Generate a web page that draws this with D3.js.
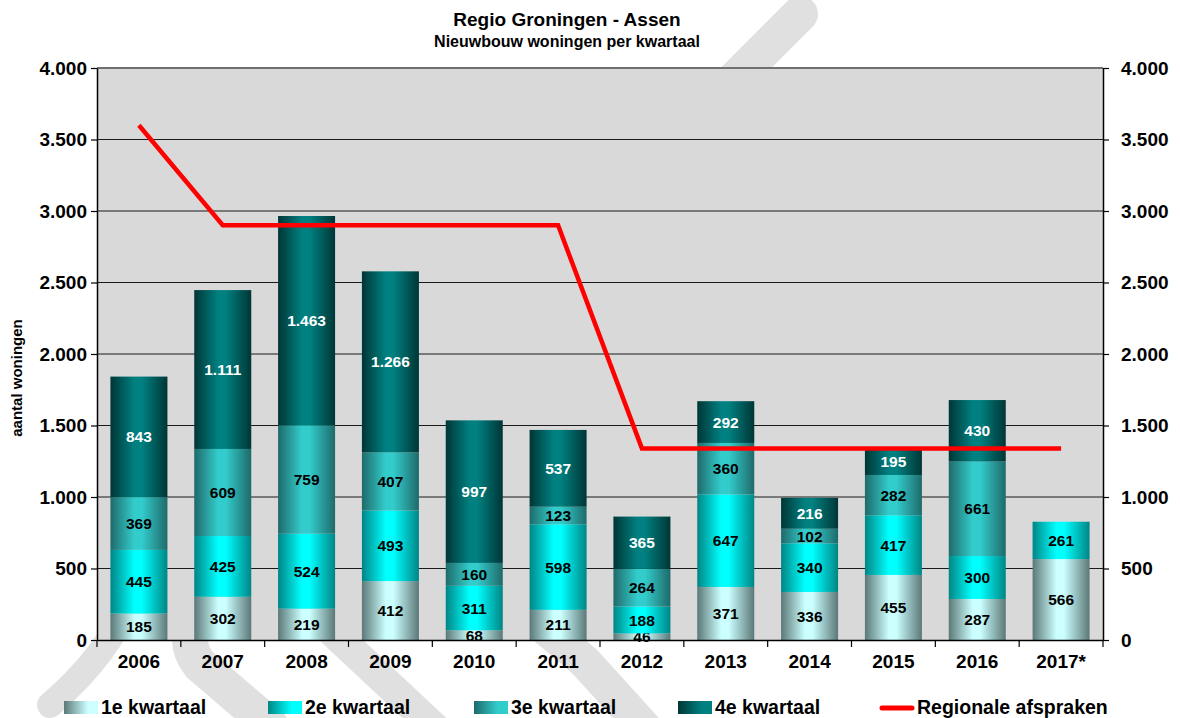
<!DOCTYPE html>
<html>
<head>
<meta charset="utf-8">
<script src="https://cdn.jsdelivr.net/npm/d3@7"></script>
<style>
  body { margin: 0; background: #fff; }
  svg text { font-family: Arial, "Liberation Sans", sans-serif; font-weight: bold; }
</style>
</head>
<body>
<script>
// chart values
const years = ["2006", "2007", "2008", "2009", "2010", "2011", "2012", "2013", "2014", "2015", "2016", "2017*"];
const kwartaal1 = [185, 302, 219, 412, 68, 211, 46, 371, 336, 455, 287, 566];
const kwartaal2 = [445, 425, 524, 493, 311, 598, 188, 647, 340, 417, 300, 261];
const kwartaal3 = [369, 609, 759, 407, 160, 123, 264, 360, 102, 282, 661, null];
const kwartaal4 = [843, 1111, 1463, 1266, 997, 537, 365, 292, 216, 195, 430, null];
const afspraken = [3600, 2900, 2900, 2900, 2900, 2900, 1340, 1340, 1340, 1340, 1340, 1340];
const seriesKeys = ["q1", "q2", "q3", "q4"];
const seriesNames = ["1e kwartaal", "2e kwartaal", "3e kwartaal", "4e kwartaal"];
const lineName = "Regionale afspraken";
const yTicks = [0, 500, 1000, 1500, 2000, 2500, 3000, 3500, 4000];

const W = 1180, H = 718;
const plot = { left: 97, right: 1103, top: 68, bottom: 640 };

// dark edge / light centre of each quarter's cylinder look
const shades = {
  q1: { edge: "#5c7878", mid: "#ccffff" },
  q2: { edge: "#008585", mid: "#00ffff" },
  q3: { edge: "#1f6a6a", mid: "#33cccc" },
  q4: { edge: "#003636", mid: "#008080" }
};

const nl = d3.formatLocale({ decimal: ",", thousands: ".", grouping: [3], currency: ["€", ""] });
const fmt = nl.format(",d");

const svg = d3.select("body").append("svg")
  .attr("width", W)
  .attr("height", H);

const defs = svg.append("defs");

seriesKeys.forEach(k => {
  const g = defs.append("linearGradient").attr("id", "grad-" + k)
    .attr("x1", "0%").attr("x2", "100%").attr("y1", "0%").attr("y2", "0%");
  g.append("stop").attr("offset", "0%").attr("stop-color", shades[k].edge);
  g.append("stop").attr("offset", "42%").attr("stop-color", shades[k].mid);
  g.append("stop").attr("offset", "55%").attr("stop-color", shades[k].mid);
  g.append("stop").attr("offset", "100%").attr("stop-color", shades[k].edge);

  const lg = defs.append("linearGradient").attr("id", "leg-" + k)
    .attr("x1", "0%").attr("x2", "100%").attr("y1", "0%").attr("y2", "0%");
  lg.append("stop").attr("offset", "0%").attr("stop-color", shades[k].edge);
  lg.append("stop").attr("offset", "70%").attr("stop-color", shades[k].mid);
  lg.append("stop").attr("offset", "100%").attr("stop-color", shades[k].mid);
});

// faint logo watermark behind the chart (only shows outside the plot)
const watermark = [
  { d: "M800,14 L200,615 Q180,640 200,665 L270,725", w: 36 },
  { d: "M130,600 Q108,655 50,705", w: 26 },
  { d: "M325,625 L435,728", w: 30 },
  { d: "M525,612 Q560,640 585,662 L645,728", w: 34 }
];
svg.append("g").selectAll("path")
  .data(watermark)
  .enter().append("path")
  .attr("d", d => d.d)
  .attr("fill", "none")
  .attr("stroke", "#e0e0e0")
  .attr("stroke-width", d => d.w)
  .attr("stroke-linecap", "round");

// scales
const x = d3.scaleBand()
  .domain(years)
  .range([plot.left, plot.right])
  .paddingInner(0.32)
  .paddingOuter(0.16);

const y = d3.scaleLinear()
  .domain([0, 4000])
  .range([plot.bottom, plot.top]);

// plot background
svg.append("rect")
  .attr("x", plot.left).attr("y", plot.top)
  .attr("width", plot.right - plot.left)
  .attr("height", plot.bottom - plot.top)
  .attr("fill", "#d9d9d9");

// gridlines
svg.append("g").selectAll("line")
  .data(yTicks.filter(t => t > 0 && t < 4000))
  .enter().append("line")
  .attr("x1", plot.left).attr("x2", plot.right)
  .attr("y1", d => y(d)).attr("y2", d => y(d))
  .attr("stroke", "#1a1a1a")
  .attr("stroke-width", 1);

svg.append("line")
  .attr("x1", plot.left).attr("x2", plot.right)
  .attr("y1", y(4000)).attr("y2", y(4000))
  .attr("stroke", "#707070")
  .attr("stroke-width", 2);

// stacked bars
const table = years.map((yr, i) => ({
  year: yr,
  q1: kwartaal1[i], q2: kwartaal2[i], q3: kwartaal3[i], q4: kwartaal4[i]
}));

const stacked = d3.stack()
  .keys(seriesKeys)
  .value((d, k) => d[k] || 0)(table);

const layers = svg.append("g").selectAll("g.layer")
  .data(stacked)
  .enter().append("g")
  .attr("class", "layer");

layers.selectAll("rect")
  .data(s => s.map(d => ({ key: s.key, y0: d[0], y1: d[1], year: d.data.year, v: d.data[s.key] })))
  .enter().append("rect")
  .filter(d => d.v)
  .attr("x", d => x(d.year))
  .attr("width", x.bandwidth())
  .attr("y", d => y(d.y1))
  .attr("height", d => y(d.y0) - y(d.y1))
  .attr("fill", d => "url(#grad-" + d.key + ")");

layers.selectAll("text")
  .data(s => s.map(d => ({ key: s.key, y0: d[0], y1: d[1], year: d.data.year, v: d.data[s.key] })))
  .enter().append("text")
  .filter(d => d.v)
  .attr("x", d => x(d.year) + x.bandwidth() / 2)
  .attr("y", d => (y(d.y0) + y(d.y1)) / 2)
  .attr("dy", "0.36em")
  .attr("text-anchor", "middle")
  .attr("font-size", 15.5)
  .attr("fill", d => d.key === "q4" ? "#fff" : "#000")
  .text(d => fmt(d.v));

// red target line
const line = d3.line()
  .x((d, i) => x(years[i]) + x.bandwidth() / 2)
  .y(d => y(d));

svg.append("path")
  .datum(afspraken)
  .attr("d", line)
  .attr("fill", "none")
  .attr("stroke", "#ff0000")
  .attr("stroke-width", 4.5)
  .attr("stroke-linejoin", "miter");

// axes
const axisLeft = svg.append("g")
  .attr("transform", "translate(" + plot.left + ",0)")
  .call(d3.axisLeft(y).tickValues(yTicks).tickSize(6).tickSizeOuter(0).tickPadding(4).tickFormat(fmt));

const axisRight = svg.append("g")
  .attr("transform", "translate(" + plot.right + ",0)")
  .call(d3.axisRight(y).tickValues(yTicks).tickSize(6).tickSizeOuter(0).tickPadding(12).tickFormat(fmt));

[axisLeft, axisRight].forEach(a => {
  a.selectAll("path.domain").attr("stroke", "#000").attr("stroke-width", 1.5);
  a.selectAll("line").attr("stroke", "#000").attr("stroke-width", 1.2);
  a.selectAll("text").attr("font-size", 19).attr("fill", "#000");
});

const axisBottom = svg.append("g")
  .attr("transform", "translate(0," + plot.bottom + ")")
  .call(d3.axisBottom(x).tickSize(0).tickPadding(15));

axisBottom.select("path.domain").attr("stroke", "#000").attr("stroke-width", 1.5);
axisBottom.selectAll("text").attr("font-size", 19).attr("fill", "#000");

// ticks between the categories
const step = x.step();
axisBottom.append("g").selectAll("line")
  .data(years.concat(["end"]))
  .enter().append("line")
  .attr("x1", (d, i) => plot.left + i * step)
  .attr("x2", (d, i) => plot.left + i * step)
  .attr("y1", 0).attr("y2", 7)
  .attr("stroke", "#000")
  .attr("stroke-width", 1.2);

// titles
svg.append("text")
  .attr("x", 567).attr("y", 26)
  .attr("text-anchor", "middle")
  .attr("font-size", 19)
  .text("Regio Groningen - Assen");

svg.append("text")
  .attr("x", 567).attr("y", 47)
  .attr("text-anchor", "middle")
  .attr("font-size", 16)
  .text("Nieuwbouw woningen per kwartaal");

svg.append("text")
  .attr("transform", "translate(22,378) rotate(-90)")
  .attr("text-anchor", "middle")
  .attr("font-size", 15)
  .text("aantal woningen");

// legend
const legendX = [64, 268, 474, 678];
const legend = svg.append("g");

legend.selectAll("rect")
  .data(seriesKeys)
  .enter().append("rect")
  .attr("x", (d, i) => legendX[i])
  .attr("y", 701)
  .attr("width", 34)
  .attr("height", 13)
  .attr("fill", d => "url(#leg-" + d + ")");

legend.selectAll("text.q")
  .data(seriesNames)
  .enter().append("text")
  .attr("class", "q")
  .attr("x", (d, i) => legendX[i] + 37)
  .attr("y", 714)
  .attr("font-size", 19.5)
  .text(d => d);

legend.append("line")
  .attr("x1", 882).attr("x2", 912)
  .attr("y1", 708).attr("y2", 708)
  .attr("stroke", "#ff0000")
  .attr("stroke-width", 5)
  .attr("stroke-linecap", "round");

legend.append("text")
  .attr("x", 917).attr("y", 714)
  .attr("font-size", 19.5)
  .text(lineName);
</script>
</body>
</html>
